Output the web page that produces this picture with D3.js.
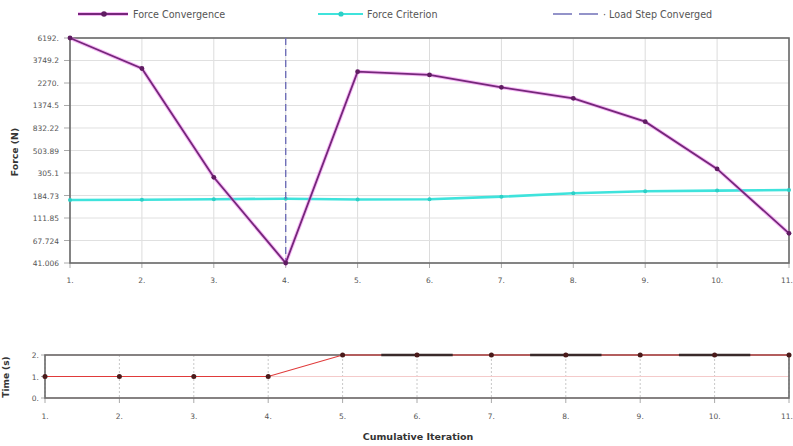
<!DOCTYPE html>
<html>
<head>
<meta charset="utf-8">
<script src="https://cdn.jsdelivr.net/npm/d3@7/dist/d3.min.js"></script>
<style>
  html, body { margin: 0; padding: 0; background: #fff; }
  svg { display: block; }
  text { font-family: "DejaVu Sans", Verdana, sans-serif; fill: #555; }
</style>
</head>
<body>
<script>
// Iteration numbers and per-iteration results
const iterations = [1, 2, 3, 4, 5, 6, 7, 8, 9, 10, 11];
const iterLabels = ["1.", "2.", "3.", "4.", "5.", "6.", "7.", "8.", "9.", "10.", "11."];
const forceConvergence = [6192, 3137, 277, 41.006, 2921, 2715, 2062, 1614, 958, 334, 79.5];
const forceCriterion = [167, 168, 170, 172, 169, 170, 180, 194, 203, 206, 209];
const loadStepConverged = [4];
const forceTickLabels = ["6192.", "3749.2", "2270.", "1374.5", "832.22", "503.89", "305.1", "184.73", "111.85", "67.724", "41.006"];
const timeValues = [1, 1, 1, 1, 2, 2, 2, 2, 2, 2, 2];
const timeTickLabels = ["0.", "1.", "2."];
const timeTickValues = [0, 1, 2];
const substepIters = [6, 8, 10];

const W = 793, H = 446;
const svg = d3.select("body").append("svg").attr("width", W).attr("height", H);

// keeps the last iteration label inside the drawing
function labelAnchor(i, n) { return i === n - 1 ? "end" : "middle"; }
function labelX(scale, d, i, n) { return i === n - 1 ? W : scale(d); }

// ---------- Force plot ----------
const fBox = { left: 70, right: 789, top: 38, bottom: 263 };
const x1 = d3.scaleLinear().domain([1, 11]).range([fBox.left, fBox.right]);
const y1 = d3.scaleLog().domain([41.006, 6192]).range([fBox.bottom, fBox.top]);

const g1 = svg.append("g");
// grid
g1.selectAll(".vg").data(iterations).enter().append("line")
  .attr("x1", d => x1(d)).attr("x2", d => x1(d))
  .attr("y1", fBox.top).attr("y2", fBox.bottom)
  .attr("stroke", "#dcdcdc").attr("stroke-width", 1);
g1.selectAll(".hg").data(forceTickLabels).enter().append("line")
  .attr("x1", fBox.left).attr("x2", fBox.right)
  .attr("y1", d => y1(parseFloat(d))).attr("y2", d => y1(parseFloat(d)))
  .attr("stroke", "#e0e0e0").attr("stroke-width", 1);

// y ticks & labels
g1.selectAll(".yt").data(forceTickLabels).enter().append("line")
  .attr("x1", fBox.left - 6).attr("x2", fBox.left)
  .attr("y1", d => y1(parseFloat(d))).attr("y2", d => y1(parseFloat(d)))
  .attr("stroke", "#aaa");
g1.selectAll(".yl").data(forceTickLabels).enter().append("text")
  .attr("x", fBox.left - 11).attr("y", d => y1(parseFloat(d)) + 3)
  .attr("text-anchor", "end").attr("font-size", 7.5).text(d => d);

// x ticks & labels
g1.selectAll(".xt").data(iterations).enter().append("line")
  .attr("x1", d => x1(d)).attr("x2", d => x1(d))
  .attr("y1", fBox.bottom).attr("y2", fBox.bottom + 5)
  .attr("stroke", "#aaa");
g1.selectAll(".xl").data(iterations).enter().append("text")
  .attr("x", (d, i) => labelX(x1, d, i, iterations.length)).attr("y", fBox.bottom + 20)
  .attr("text-anchor", (d, i) => labelAnchor(i, iterations.length)).attr("font-size", 7.5)
  .text((d, i) => iterLabels[i]);

// frame
g1.append("rect").attr("x", fBox.left).attr("y", fBox.top)
  .attr("width", fBox.right - fBox.left).attr("height", fBox.bottom - fBox.top)
  .attr("fill", "none").attr("stroke", "#6a6a6a").attr("stroke-width", 1.6);

// y title
svg.append("text").attr("transform", `translate(18,152) rotate(-90)`)
  .attr("text-anchor", "middle").attr("font-size", 9.3).attr("font-weight", "bold")
  .style("fill", "#333").text("Force (N)");

// criterion line
const line1 = d3.line().x((d, i) => x1(iterations[i])).y(d => y1(d));
g1.append("path").datum(forceCriterion).attr("d", line1)
  .attr("fill", "none").attr("stroke", "#3fe3dc").attr("stroke-width", 2.6);
g1.selectAll(".cm").data(forceCriterion).enter().append("circle")
  .attr("cx", (d, i) => x1(iterations[i])).attr("cy", d => y1(d)).attr("r", 2)
  .attr("fill", "#2ccfc6");

// load step converged marker
g1.selectAll(".ls").data(loadStepConverged).enter().append("line")
  .attr("x1", d => x1(d)).attr("x2", d => x1(d))
  .attr("y1", fBox.top).attr("y2", fBox.bottom)
  .attr("stroke", "#7070b8").attr("stroke-width", 1.4).attr("stroke-dasharray", "7,4");

// force convergence line (magenta glow + purple core)
g1.append("path").datum(forceConvergence).attr("d", line1)
  .attr("fill", "none").attr("stroke", "#ee66ee").attr("stroke-opacity", 0.45).attr("stroke-width", 3.8);
g1.append("path").datum(forceConvergence).attr("d", line1)
  .attr("fill", "none").attr("stroke", "#75277a").attr("stroke-width", 1.8);
g1.selectAll(".fm").data(forceConvergence).enter().append("circle")
  .attr("cx", (d, i) => x1(iterations[i])).attr("cy", d => y1(d)).attr("r", 2.4)
  .attr("fill", "#601c62");

// ---------- Legend ----------
const lg = svg.append("g");
const ly = 14;
lg.append("line").attr("x1", 78).attr("x2", 128).attr("y1", ly).attr("y2", ly)
  .attr("stroke", "#ee66ee").attr("stroke-opacity", 0.45).attr("stroke-width", 3.8);
lg.append("line").attr("x1", 78).attr("x2", 128).attr("y1", ly).attr("y2", ly)
  .attr("stroke", "#75277a").attr("stroke-width", 1.8);
lg.append("circle").attr("cx", 104).attr("cy", ly).attr("r", 2.8).attr("fill", "#601c62");
lg.append("text").attr("x", 133).attr("y", ly + 3.5).attr("font-size", 9.6).text("Force Convergence");

lg.append("line").attr("x1", 318).attr("x2", 363).attr("y1", ly).attr("y2", ly)
  .attr("stroke", "#3fe3dc").attr("stroke-width", 2.2);
lg.append("circle").attr("cx", 341).attr("cy", ly).attr("r", 2.6).attr("fill", "#2ccfc6");
lg.append("text").attr("x", 367).attr("y", ly + 3.5).attr("font-size", 9.6).text("Force Criterion");

lg.append("line").attr("x1", 553).attr("x2", 600).attr("y1", ly).attr("y2", ly)
  .attr("stroke", "#7070b8").attr("stroke-width", 1.4).attr("stroke-dasharray", "19,7");
lg.append("text").attr("x", 603).attr("y", ly + 3.5).attr("font-size", 9.6).text("· Load Step Converged");

// ---------- Time plot ----------
const tBox = { left: 45, right: 789, top: 355, bottom: 398 };
const x2 = d3.scaleLinear().domain([1, 11]).range([tBox.left, tBox.right]);
const y2 = d3.scaleLinear().domain([0, 2]).range([tBox.bottom, tBox.top]);
const g2 = svg.append("g");

g2.selectAll(".vg").data(iterations).enter().append("line")
  .attr("x1", d => x2(d)).attr("x2", d => x2(d))
  .attr("y1", tBox.top).attr("y2", tBox.bottom)
  .attr("stroke", "#c8c8c8").attr("stroke-dasharray", "2,2");
g2.selectAll(".hg").data(timeTickValues).enter().append("line")
  .attr("x1", tBox.left).attr("x2", tBox.right)
  .attr("y1", d => y2(d)).attr("y2", d => y2(d))
  .attr("stroke", "#f4caca");

g2.selectAll(".yt").data(timeTickValues).enter().append("line")
  .attr("x1", tBox.left - 4).attr("x2", tBox.left)
  .attr("y1", d => y2(d)).attr("y2", d => y2(d)).attr("stroke", "#aaa");
g2.selectAll(".yl").data(timeTickValues).enter().append("text")
  .attr("x", tBox.left - 6).attr("y", d => y2(d) + 3)
  .attr("text-anchor", "end").attr("font-size", 7.5)
  .text((d, i) => timeTickLabels[i]);

g2.selectAll(".xt").data(iterations).enter().append("line")
  .attr("x1", d => x2(d)).attr("x2", d => x2(d))
  .attr("y1", tBox.bottom).attr("y2", tBox.bottom + 5).attr("stroke", "#aaa");
g2.selectAll(".xl").data(iterations).enter().append("text")
  .attr("x", (d, i) => labelX(x2, d, i, iterations.length)).attr("y", tBox.bottom + 21)
  .attr("text-anchor", (d, i) => labelAnchor(i, iterations.length)).attr("font-size", 7.5)
  .text((d, i) => iterLabels[i]);

g2.append("rect").attr("x", tBox.left).attr("y", tBox.top)
  .attr("width", tBox.right - tBox.left).attr("height", tBox.bottom - tBox.top)
  .attr("fill", "none").attr("stroke", "#6a6a6a").attr("stroke-width", 1.6);

const line2 = d3.line().x((d, i) => x2(iterations[i])).y(d => y2(d));
g2.append("path").datum(timeValues).attr("d", line2)
  .attr("fill", "none").attr("stroke", "#e03a3a").attr("stroke-width", 1.1);

// substep bands along the top edge
g2.selectAll(".ss").data(substepIters).enter().append("line")
  .attr("x1", d => x2(d - 0.48)).attr("x2", d => x2(d + 0.48))
  .attr("y1", y2(2)).attr("y2", y2(2))
  .attr("stroke", "#3a2a2a").attr("stroke-width", 2.4);

g2.selectAll(".tm").data(timeValues).enter().append("circle")
  .attr("cx", (d, i) => x2(iterations[i])).attr("cy", d => y2(d)).attr("r", 2.5)
  .attr("fill", "#4a1a1a");

svg.append("text").attr("transform", `translate(9,377) rotate(-90)`)
  .attr("text-anchor", "middle").attr("font-size", 9).attr("font-weight", "bold")
  .style("fill", "#333").text("Time (s)");

svg.append("text").attr("x", 418).attr("y", 440)
  .attr("text-anchor", "middle").attr("font-size", 9.5).attr("font-weight", "bold")
  .style("fill", "#333").text("Cumulative Iteration");
</script>
</body>
</html>
